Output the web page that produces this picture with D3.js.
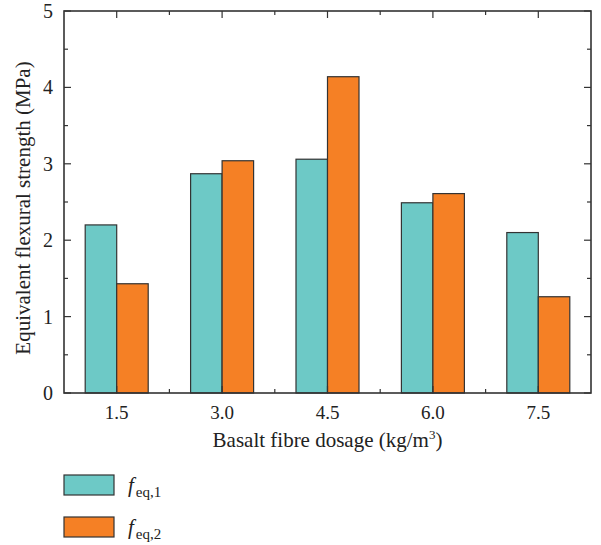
<!DOCTYPE html>
<html>
<head>
<meta charset="utf-8">
<script src="https://cdnjs.cloudflare.com/ajax/libs/d3/7.8.5/d3.min.js"></script>
<style>
  body { margin: 0; background: #fff; }
  svg { font-family: "Liberation Serif", "DejaVu Serif", serif; }
</style>
</head>
<body>
<svg width="601" height="545"></svg>
<script>
// chart data
var dosages = ["1.5", "3.0", "4.5", "6.0", "7.5"];
var feq1 = [2.20, 2.87, 3.06, 2.49, 2.10];
var feq2 = [1.43, 3.04, 4.14, 2.61, 1.26];
var seriesNames = ["eq,1", "eq,2"];
var yTicks = [0, 1, 2, 3, 4, 5];

var svg = d3.select("svg"),
    margin = {top: 11, right: 10, bottom: 152, left: 64},
    width = +svg.attr("width") - margin.left - margin.right,
    height = +svg.attr("height") - margin.top - margin.bottom,
    g = svg.append("g").attr("transform", "translate(" + margin.left + "," + margin.top + ")");

var data = dosages.map(function(d, i) { return {dosage: d, eq1: feq1[i], eq2: feq2[i]}; });
var keys = ["eq1", "eq2"];

var x0 = d3.scaleBand()
    .domain(dosages)
    .range([0, width])
    .padding(0);

var barW = 31.5;
var x1 = d3.scaleBand()
    .domain(keys)
    .range([x0.bandwidth() / 2 - barW, x0.bandwidth() / 2 + barW]);

var y = d3.scaleLinear()
    .domain([0, 5])
    .range([height, 0]);

var z = d3.scaleOrdinal()
    .domain(keys)
    .range(["#6dc9c6", "#f58025"]);

var ink = "#333";

// bars
g.append("g")
  .selectAll("g")
  .data(data)
  .enter().append("g")
    .attr("transform", function(d) { return "translate(" + x0(d.dosage) + ",0)"; })
  .selectAll("rect")
  .data(function(d) { return keys.map(function(key) { return {key: key, value: d[key]}; }); })
  .enter().append("rect")
    .attr("x", function(d) { return x1(d.key); })
    .attr("y", function(d) { return y(d.value); })
    .attr("width", x1.bandwidth())
    .attr("height", function(d) { return height - y(d.value); })
    .attr("fill", function(d) { return z(d.key); })
    .attr("stroke", ink)
    .attr("stroke-width", 1.2);

// minor positions for y
var yMinor = d3.range(0.5, 5, 1);
// minor positions for x (between categories)
var xMinor = dosages.slice(1).map(function(d) { return x0(d); });
var xMajor = dosages.map(function(d) { return x0(d) + x0.bandwidth() / 2; });

var ticks = g.append("g").attr("stroke", ink).attr("stroke-width", 1.2);

function tick(x1_, y1_, x2_, y2_) {
  ticks.append("line").attr("x1", x1_).attr("y1", y1_).attr("x2", x2_).attr("y2", y2_);
}

yTicks.forEach(function(v) {
  tick(0, y(v), 7, y(v));
  tick(width, y(v), width - 7, y(v));
});
yMinor.forEach(function(v) {
  tick(0, y(v), 4, y(v));
  tick(width, y(v), width - 4, y(v));
});
xMajor.forEach(function(v) {
  tick(v, height, v, height - 7);
  tick(v, 0, v, 7);
});
xMinor.forEach(function(v) {
  tick(v, height, v, height - 4);
  tick(v, 0, v, 4);
});

// frame
g.append("rect")
    .attr("width", width)
    .attr("height", height)
    .attr("fill", "none")
    .attr("stroke", ink)
    .attr("stroke-width", 1.6);

// tick labels
g.append("g")
    .attr("font-size", 20)
    .attr("fill", "#222")
    .attr("text-anchor", "end")
  .selectAll("text")
  .data(yTicks)
  .enter().append("text")
    .attr("x", -11)
    .attr("y", function(d) { return y(d); })
    .attr("dy", "0.35em")
    .text(function(d) { return d; });

g.append("g")
    .attr("font-size", 19)
    .attr("fill", "#222")
    .attr("text-anchor", "middle")
  .selectAll("text")
  .data(dosages)
  .enter().append("text")
    .attr("x", function(d) { return x0(d) + x0.bandwidth() / 2; })
    .attr("y", height + 26)
    .text(function(d) { return d; });

// axis titles
var xt = g.append("text")
    .attr("x", width / 2)
    .attr("y", height + 54)
    .attr("text-anchor", "middle")
    .attr("font-size", 21)
    .attr("fill", "#222")
    .text("Basalt fibre dosage (kg/m");
xt.append("tspan").attr("dy", -8).attr("font-size", 13).text("3");
xt.append("tspan").attr("dy", 8).text(")");

g.append("text")
    .attr("transform", "translate(" + (-34) + "," + (height / 2 + 6) + ") rotate(-90)")
    .attr("text-anchor", "middle")
    .attr("font-size", 21)
    .attr("fill", "#222")
    .text("Equivalent flexural strength (MPa)");

// legend
var legend = svg.append("g")
  .selectAll("g")
  .data(keys)
  .enter().append("g")
    .attr("transform", function(d, i) { return "translate(64," + (475 + i * 42) + ")"; });

legend.append("rect")
    .attr("width", 50)
    .attr("height", 20)
    .attr("fill", function(d) { return z(d); })
    .attr("stroke", ink)
    .attr("stroke-width", 1.2);

var lt = legend.append("text")
    .attr("x", 64)
    .attr("y", 17)
    .attr("font-size", 21)
    .attr("fill", "#222");
lt.append("tspan").attr("font-style", "italic").text("f");
lt.append("tspan")
    .attr("dy", 5)
    .attr("dx", 2)
    .attr("font-size", 15)
    .text(function(d, i) { return seriesNames[i]; });
</script>
</body>
</html>
